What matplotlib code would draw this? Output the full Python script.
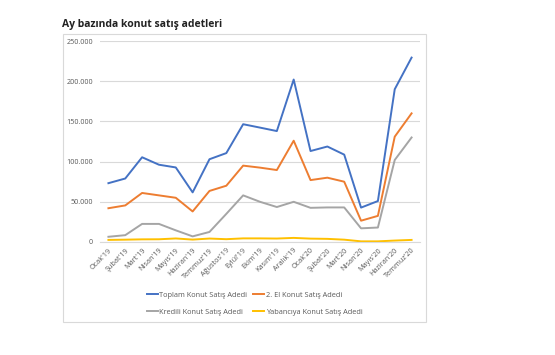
import matplotlib.pyplot as plt
import matplotlib.patches as patches
import matplotlib.ticker as ticker
import numpy as np

# Monthly sales counts, Jan 2019 - Jul 2020
months = ["Ocak'19", "Şubat'19", "Mart'19", "Nisan'19", "Mayıs'19", "Haziran'19",
          "Temmuz'19", "Ağustos'19", "Eylül'19", "Ekim'19", "Kasım'19", "Aralık'19",
          "Ocak'20", "Şubat'20", "Mart'20", "Nisan'20", "Mayıs'20", "Haziran'20", "Temmuz'20"]
toplam = [73156, 78970, 105394, 96118, 92725, 61732, 102948, 110576, 146497, 142280,
          137987, 202074, 113145, 118753, 108670, 42783, 50936, 190012, 229357]
ikinci_el = [42000, 45500, 61000, 58000, 55000, 38000, 63500, 70000, 95000, 92500,
             89500, 126000, 77000, 80000, 75000, 26500, 32500, 131000, 160000]
kredili = [6500, 8500, 22500, 22500, 14500, 7000, 12500, 35000, 58000, 50000,
           43500, 50000, 42500, 43000, 43000, 17000, 18000, 102000, 130000]
yabanci = [2600, 2900, 3300, 3400, 4400, 3000, 4300, 3500, 4500, 4500,
           4300, 5100, 4200, 3900, 2900, 800, 800, 1800, 2600]

series = [
    ('Toplam Konut Satış Adedi', toplam, '#4472C4'),
    ('2. El Konut Satış Adedi', ikinci_el, '#ED7D31'),
    ('Kredili Konut Satış Adedi', kredili, '#A5A5A5'),
    ('Yabancıya Konut Satış Adedi', yabanci, '#FFC000'),
]

W, H = 555, 355
fig = plt.figure(figsize=(W / 100, H / 100), dpi=100)
plt.rcParams['font.family'] = ['Open Sans', 'DejaVu Sans']

# chart border (Excel style)
fig.patches.append(patches.Rectangle((63 / W, 1 - 322 / H), (426 - 63) / W, (322 - 34) / H,
                                     transform=fig.transFigure, fill=False,
                                     edgecolor='#D9D9D9', linewidth=0.8))

fig.text(62 / W, 1 - 27 / H, 'Ay bazında konut satış adetleri', fontsize=7.5,
         fontweight='bold', color='#222222', va='baseline', ha='left')

ax = fig.add_axes([100 / W, 1 - 242 / H, 320 / W, 201 / H])
x = np.arange(len(months))
lines = {}
for name, vals, col in series:
    lines[name], = ax.plot(x, vals, color=col, linewidth=1.4, label=name)

ax.set_xlim(-0.5, len(months) - 0.5)
ax.set_ylim(0, 250000)
ax.yaxis.set_major_locator(ticker.MultipleLocator(50000))
ax.yaxis.set_major_formatter(ticker.FuncFormatter(lambda v, p: f'{int(v):,}'.replace(',', '.')))
ax.grid(axis='y', color='#D9D9D9', linewidth=0.8)
ax.set_axisbelow(True)
for s in ['top', 'right', 'left']:
    ax.spines[s].set_visible(False)
ax.spines['bottom'].set_color('#D9D9D9')
ax.tick_params(axis='both', length=0, labelsize=5.2, labelcolor='#595959')
ax.tick_params(axis='y', pad=5)
ax.set_xticks(x)
ax.set_xticklabels(months, rotation=45, ha='right', rotation_mode='anchor')

order = ['Toplam Konut Satış Adedi', 'Kredili Konut Satış Adedi',
         '2. El Konut Satış Adedi', 'Yabancıya Konut Satış Adedi']
fig.legend([lines[n] for n in order], order, ncol=2, frameon=False,
           loc='upper left', bbox_to_anchor=(140 / W, 1 - 285 / H),
           fontsize=5.3, labelcolor='#595959', handlelength=1.5,
           handletextpad=0.2, columnspacing=0.8, labelspacing=1.3)

fig.savefig('out.png', dpi=100)
